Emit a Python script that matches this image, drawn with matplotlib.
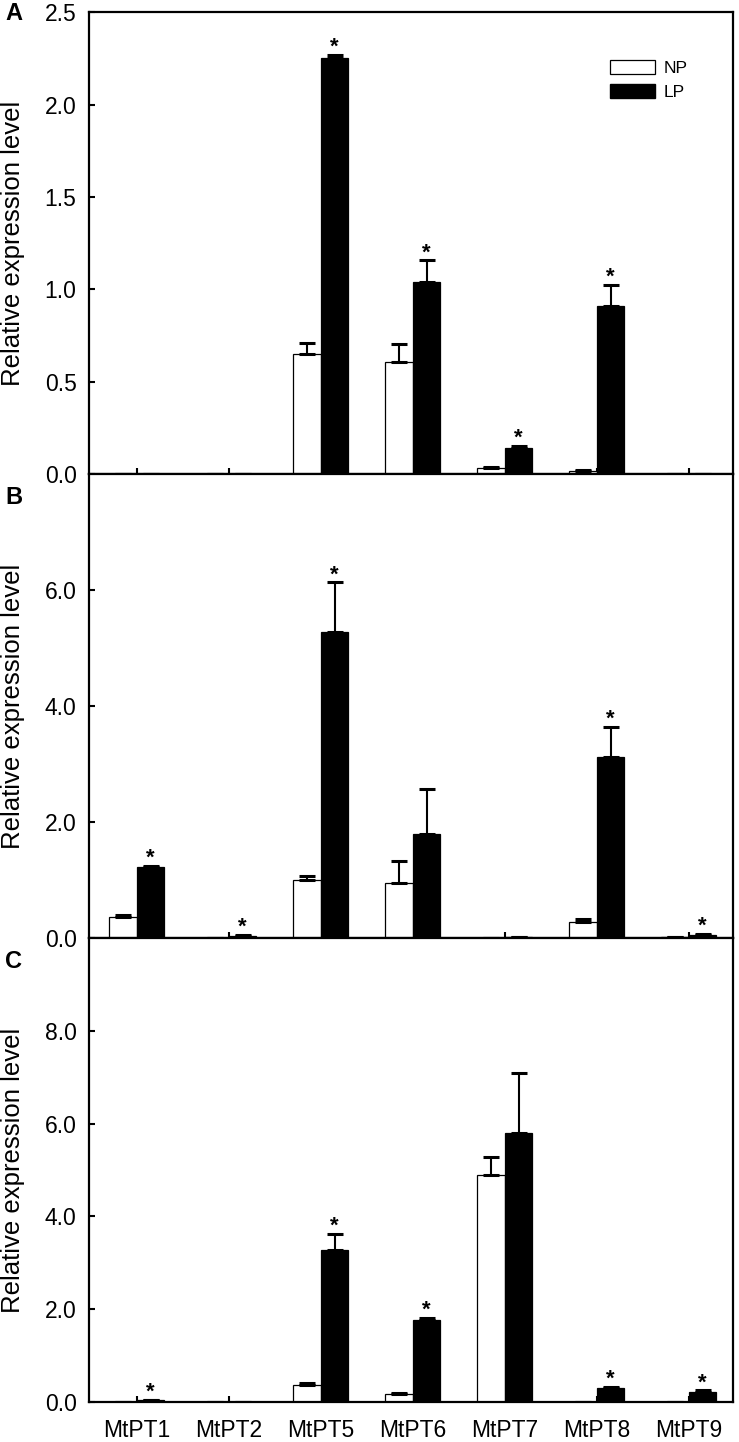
import numpy as np
import matplotlib
matplotlib.use('Agg')
import matplotlib.pyplot as plt
from matplotlib.patches import Patch

plt.rcParams['font.family'] = ['Liberation Sans', 'DejaVu Sans']

genes = ['MtPT1', 'MtPT2', 'MtPT5', 'MtPT6', 'MtPT7', 'MtPT8', 'MtPT9']

# panel A
np_a = [0.0, 0.0, 0.65, 0.605, 0.03, 0.015, 0.0]
np_a_err = [0.0, 0.0, 0.057, 0.097, 0.006, 0.005, 0.0]
lp_a = [0.0, 0.0, 2.254, 1.037, 0.141, 0.91, 0.0]
lp_a_err = [0.0, 0.0, 0.017, 0.12, 0.01, 0.115, 0.0]
star_a = [False, False, True, True, True, True, False]

# panel B
np_b = [0.37, 0.0, 1.0, 0.95, 0.0, 0.27, 0.01]
np_b_err = [0.02, 0.0, 0.07, 0.38, 0.0, 0.05, 0.0]
lp_b = [1.22, 0.04, 5.28, 1.8, 0.01, 3.12, 0.06]
lp_b_err = [0.03, 0.01, 0.85, 0.77, 0.0, 0.52, 0.01]
star_b = [True, True, True, False, False, True, True]

# panel C
np_c = [0.0, 0.0, 0.37, 0.18, 4.9, 0.0, 0.0]
np_c_err = [0.0, 0.0, 0.03, 0.02, 0.37, 0.0, 0.0]
lp_c = [0.04, 0.0, 3.27, 1.76, 5.8, 0.3, 0.22]
lp_c_err = [0.01, 0.0, 0.35, 0.06, 1.3, 0.03, 0.03]
star_c = [True, False, True, True, False, True, True]

panels = [
    ('A', np_a, np_a_err, lp_a, lp_a_err, star_a, 2.5, [0, 0.5, 1.0, 1.5, 2.0, 2.5]),
    ('B', np_b, np_b_err, lp_b, lp_b_err, star_b, 8.0, [0, 2, 4, 6]),
    ('C', np_c, np_c_err, lp_c, lp_c_err, star_c, 10.0, [0, 2, 4, 6, 8]),
]

fig = plt.figure(figsize=(7.39, 14.42), dpi=100)
W, H = 739.0, 1442.0
left, right = 89, 733
bounds = [(12.3, 474), (474, 938), (938, 1402)]
letter_y = [14, 497, 961]

x = np.arange(len(genes))
w = 0.30

for i, (letter, npv, npe, lpv, lpe, stars, ymax, ticks) in enumerate(panels):
    top, bot = bounds[i]
    ax = fig.add_axes([left / W, 1 - bot / H, (right - left) / W, (bot - top) / H])
    ax.bar(x - w / 2, npv, w, color='white', edgecolor='black', linewidth=0.9, zorder=2)
    ax.bar(x + w / 2, lpv, w, color='black', edgecolor='black', linewidth=0.9, zorder=2)
    ax.errorbar(x - w / 2, npv, yerr=[np.zeros(len(x)), npe], fmt='none', ecolor='black',
                elinewidth=1.5, capsize=5.5, capthick=2.2, zorder=3)
    ax.errorbar(x + w / 2, lpv, yerr=[np.zeros(len(x)), lpe], fmt='none', ecolor='black',
                elinewidth=1.5, capsize=5.5, capthick=2.2, zorder=3)
    for j in range(len(x)):
        if stars[j]:
            ax.annotate('*', (x[j] + w / 2, lpv[j] + lpe[j]), xytext=(0, 1.5),
                        textcoords='offset points', ha='center', va='baseline',
                        fontsize=16, fontweight='bold', zorder=4)
    ax.set_xlim(-0.52, 6.48)
    ax.set_ylim(0, ymax)
    ax.set_yticks(ticks)
    ax.set_yticklabels(['{:.1f}'.format(t) for t in ticks])
    ax.set_xticks(x)
    if i == 2:
        ax.set_xticklabels(genes)
    else:
        ax.set_xticklabels([])
    ax.tick_params(axis='y', direction='in', length=4, width=1.5, labelsize=16.5, pad=9)
    ax.tick_params(axis='x', direction='in', length=4, width=1.5, labelsize=16.5, pad=12)
    for s in ax.spines.values():
        s.set_linewidth(1.6)
    ax.set_ylabel('Relative expression level', fontsize=18.5)
    ax.yaxis.set_label_coords(-0.099, 0.5)
    fig.text(5 / W, 1 - letter_y[i] / H, letter, fontsize=17, fontweight='bold',
             ha='left', va='center')
    if i == 0:
        handles = [Patch(facecolor='white', edgecolor='black', linewidth=0.9, label='NP'),
                   Patch(facecolor='black', edgecolor='black', label='LP')]
        ax.legend(handles=handles, loc='upper left', bbox_to_anchor=(0.796, 0.915), frameon=False,
                  fontsize=12.5, borderpad=0, handlelength=2.55, handleheight=0.85,
                  labelspacing=0.45, handletextpad=0.55)

fig.savefig('out.png', dpi=100)
